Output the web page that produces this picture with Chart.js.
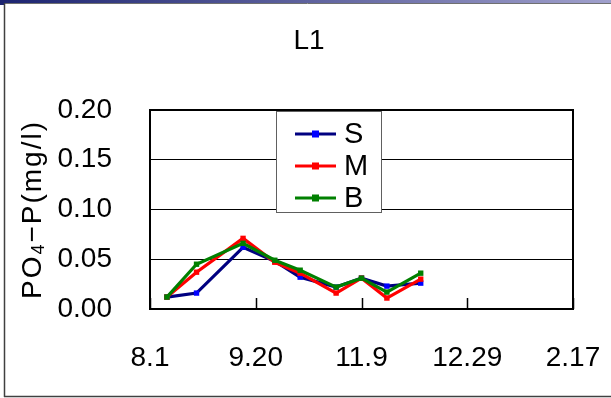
<!DOCTYPE html>
<html><head><meta charset="utf-8">
<style>html,body{margin:0;padding:0;background:#fff;overflow:hidden}canvas{display:block}</style>
<script src="https://cdn.jsdelivr.net/npm/chart.js@4.4.1/dist/chart.umd.min.js"></script>
</head><body>
<canvas id="c" width="611" height="398"></canvas>
<script>
const titleText = "L1";
const yLabelParts = ["PO", "4", "\u2212P(mg/l)"];
const seriesNames = ["S", "M", "B"];
const dayOffsets = [8, 22, 44, 59, 71, 88, 100, 112, 128]; // days since 8.1
const valuesS = [0.012, 0.016, 0.062, 0.048, 0.032, 0.022, 0.031, 0.023, 0.026];
const valuesM = [0.012, 0.037, 0.071, 0.047, 0.036, 0.016, 0.031, 0.011, 0.030];
const valuesB = [0.012, 0.045, 0.066, 0.049, 0.039, 0.022, 0.031, 0.017, 0.036];
const xTickLabels = ["8.1", "9.20", "11.9", "12.29", "2.17"];
const xTickDays = [0, 50, 100, 150, 200];
const yTickValues = [0, 0.05, 0.10, 0.15, 0.20];

const FONT = "'Liberation Sans', Arial, sans-serif";
const lineColors = ["#000080", "#ff0000", "#008000"];
const pointColors = ["#0000ff", "#ff0000", "#008000"];
const allValues = [valuesS, valuesM, valuesB];

const datasets = seriesNames.map((n, i) => ({
  label: n,
  data: dayOffsets.map((d, j) => ({ x: d, y: allValues[i][j] })),
  borderColor: lineColors[i],
  backgroundColor: pointColors[i],
  pointBackgroundColor: pointColors[i],
  pointBorderColor: pointColors[i],
  pointStyle: 'rect',
  pointRadius: 3.8,
  pointBorderWidth: 0,
  borderWidth: 3.2,
  tension: 0,
  order: 3 - i
}));

const framePlugin = {
  id: 'frame',
  beforeDraw(chart) {
    const ctx = chart.ctx;
    ctx.save();
    ctx.fillStyle = '#fff';
    ctx.fillRect(0, 0, 611, 398);
    const g = ctx.createLinearGradient(0, 0, 611, 0);
    g.addColorStop(0, '#1c2470');
    g.addColorStop(1, '#a0a0cc');
    ctx.fillStyle = g;
    ctx.fillRect(0, 0, 611, 3);
    ctx.fillStyle = '#1c2470';
    ctx.fillRect(0, 0, 4, 5);
    ctx.strokeStyle = '#707070';
    ctx.lineWidth = 1;
    ctx.beginPath();
    ctx.moveTo(4, 3.5); ctx.lineTo(611, 3.5);
    ctx.stroke();
    ctx.strokeStyle = '#404040';
    ctx.lineWidth = 1.5;
    ctx.beginPath();
    ctx.moveTo(4.5, 3); ctx.lineTo(4.5, 397);
    ctx.moveTo(4, 396.5); ctx.lineTo(611, 396.5);
    ctx.stroke();
    ctx.restore();
  },
  beforeDatasetsDraw(chart) {
    const ctx = chart.ctx, a = chart.chartArea, xs = chart.scales.x;
    ctx.save();
    ctx.strokeStyle = '#000';
    ctx.lineWidth = 1.5;
    ctx.beginPath();
    xTickDays.forEach(d => {
      const px = Math.round(xs.getPixelForValue(d)) + 0.5;
      ctx.moveTo(px, a.bottom); ctx.lineTo(px, a.bottom - 11);
    });
    ctx.stroke();
    ctx.lineWidth = 2;
    ctx.strokeRect(a.left, a.top, a.right - a.left, a.bottom - a.top);
    ctx.restore();
  },
  afterDraw(chart) {
    const ctx = chart.ctx, a = chart.chartArea;
    ctx.save();
    // title
    ctx.fillStyle = '#000';
    ctx.font = "28px " + FONT;
    ctx.textAlign = 'center';
    ctx.textBaseline = 'alphabetic';
    ctx.fillText(titleText, 309, 49);
    // y label
    ctx.translate(33, (a.top + a.bottom) / 2);
    ctx.rotate(-Math.PI / 2);
    ctx.letterSpacing = '2px';
    const big = "28px " + FONT, small = "18px " + FONT;
    ctx.font = big; const w0 = ctx.measureText(yLabelParts[0]).width;
    ctx.font = small; const w1 = ctx.measureText(yLabelParts[1]).width;
    ctx.font = big; const w2 = ctx.measureText(yLabelParts[2]).width;
    let x = -(w0 + w1 + w2) / 2;
    ctx.textAlign = 'left';
    ctx.textBaseline = 'middle';
    ctx.font = big; ctx.fillText(yLabelParts[0], x, 0); x += w0;
    ctx.font = small; ctx.fillText(yLabelParts[1], x, 6); x += w1;
    ctx.font = big; ctx.fillText(yLabelParts[2], x, 0);
    ctx.restore();
    // legend
    ctx.save();
    ctx.fillStyle = '#fff';
    ctx.fillRect(276.5, 111.5, 105, 101);
    ctx.strokeStyle = '#606060';
    ctx.lineWidth = 1;
    ctx.strokeRect(276.5, 111.5, 105, 101);
    chart.data.datasets.forEach((ds, i) => {
      const y = 134 + 32 * i;
      ctx.strokeStyle = ds.borderColor;
      ctx.lineWidth = 3;
      ctx.beginPath(); ctx.moveTo(295, y); ctx.lineTo(336, y); ctx.stroke();
      ctx.fillStyle = ds.pointBackgroundColor;
      ctx.fillRect(312, y - 3.5, 7, 7);
      ctx.fillStyle = '#000';
      ctx.font = "29px " + FONT;
      ctx.textAlign = 'left';
      ctx.textBaseline = 'middle';
      ctx.fillText(ds.label, 344, y + 1);
    });
    ctx.restore();
  }
};

new Chart(document.getElementById('c'), {
  type: 'line',
  data: { datasets },
  options: {
    responsive: false,
    animation: false,
    devicePixelRatio: 1,
    layout: { padding: { left: 0, right: 38, top: 110, bottom: 0 } },
    plugins: { legend: { display: false }, title: { display: false }, tooltip: { enabled: false } },
    scales: {
      x: {
        type: 'linear', min: 0, max: 200,
        afterFit(s) { s.height = 89; s.paddingLeft = 0; s.paddingRight = 0; },
        afterBuildTicks(s) { s.ticks = xTickDays.map(v => ({ value: v })); },
        ticks: {
          callback: (v) => { const i = xTickDays.indexOf(v); return i >= 0 ? xTickLabels[i] : ''; },
          font: { family: FONT, size: 28 }, color: '#000', padding: 32, maxRotation: 0, autoSkip: false
        },
        grid: { display: false, drawTicks: false },
        border: { display: false }
      },
      y: {
        min: 0, max: 0.2,
        afterFit(s) { s.width = 150; s.paddingTop = 0; s.paddingBottom = 0; },
        afterBuildTicks(s) { s.ticks = yTickValues.map(v => ({ value: v })); },
        ticks: {
          callback: (v) => v.toFixed(2),
          font: { family: FONT, size: 28 }, color: '#000', padding: 38
        },
        grid: { color: '#000', lineWidth: 1, drawTicks: false },
        border: { display: false }
      }
    }
  },
  plugins: [framePlugin]
});
</script>
</body></html>
